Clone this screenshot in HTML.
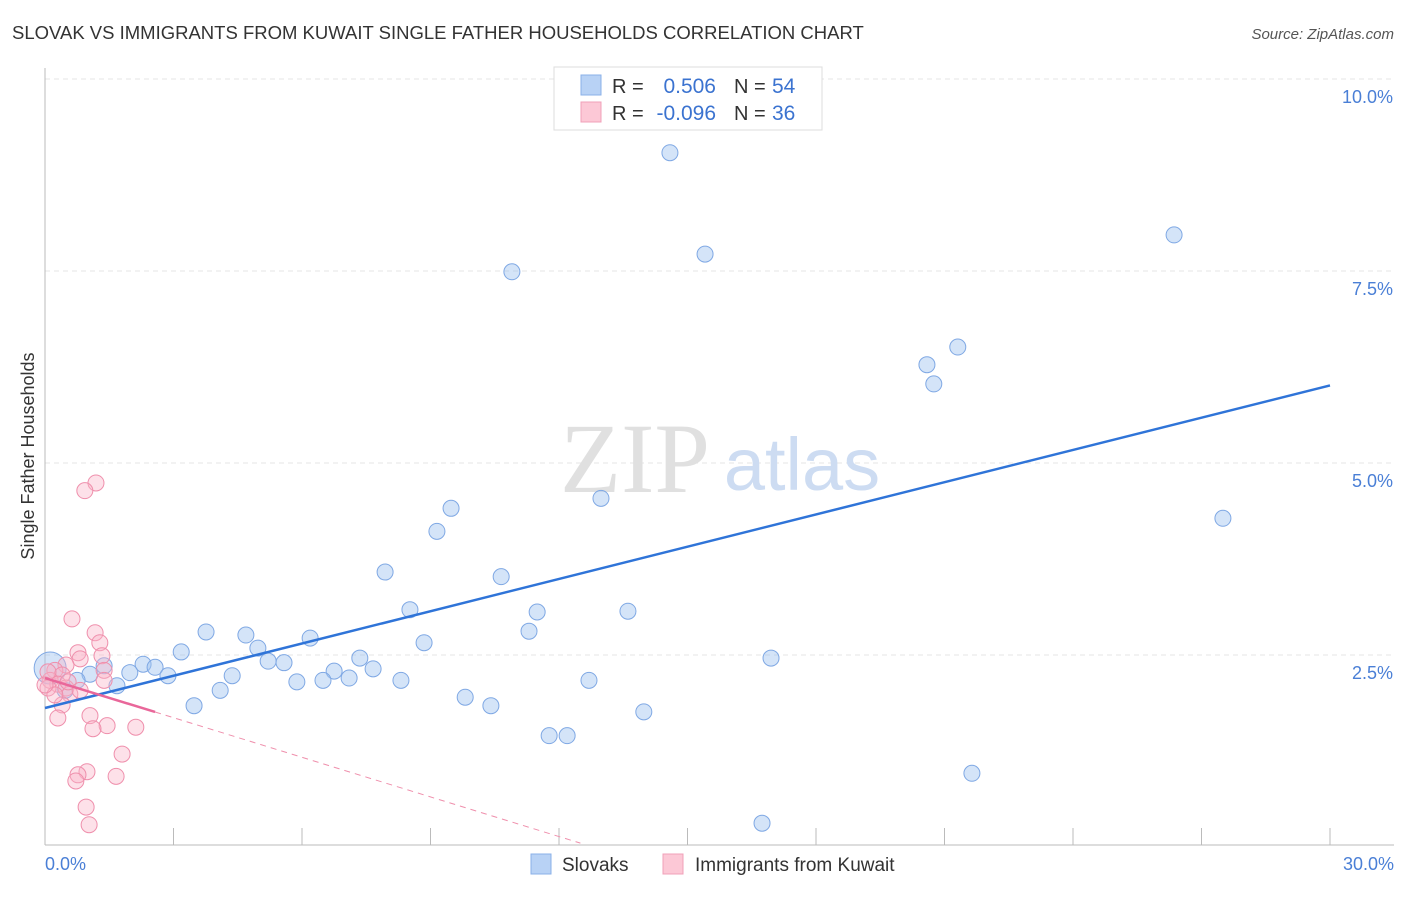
<!DOCTYPE html>
<html><head><meta charset="utf-8"><style>
body{margin:0;background:#fff;font-family:"Liberation Sans",sans-serif;}
svg text{font-family:"Liberation Sans",sans-serif;}
</style></head><body>
<svg id="chart" width="1406" height="892">
<text x="12" y="39" font-size="18.5" fill="#333">SLOVAK VS IMMIGRANTS FROM KUWAIT SINGLE FATHER HOUSEHOLDS CORRELATION CHART</text>
<text x="1394" y="39" font-size="15" fill="#555" text-anchor="end" font-style="italic">Source: ZipAtlas.com</text>
<text x="34" y="456" font-size="18" fill="#333" text-anchor="middle" transform="rotate(-90 34 456)">Single Father Households</text>
<g id="grid"></g>
<text x="635" y="492" font-size="100" fill="#e0e0e0" style="font-family:'Liberation Serif',serif" text-anchor="middle">ZIP</text>
<text x="802" y="490" font-size="74" fill="#cddcf2" text-anchor="middle">atlas</text>
<g id="marks"></g>
<g>
<rect x="554" y="67" width="268" height="63" fill="#fff" stroke="#ddd"/>
<rect x="581" y="75" width="20" height="20" fill="#b8d2f5" stroke="#8ab0e8"/>
<rect x="581" y="102" width="20" height="20" fill="#fcc8d6" stroke="#f0a0b8"/>
<text x="612" y="93" font-size="20" fill="#333">R =</text><text x="716" y="93" font-size="21" fill="#3b73d0" text-anchor="end">0.506</text>
<text x="734" y="93" font-size="20" fill="#333">N =</text><text x="772" y="93" font-size="21" fill="#3b73d0">54</text>
<text x="612" y="120" font-size="20" fill="#333">R =</text><text x="716" y="120" font-size="21" fill="#3b73d0" text-anchor="end">-0.096</text>
<text x="734" y="120" font-size="20" fill="#333">N =</text><text x="772" y="120" font-size="21" fill="#3b73d0">36</text>
</g>
<g>
<rect x="531" y="854" width="20" height="20" fill="#b8d2f5" stroke="#8ab0e8"/>
<text x="562" y="871" font-size="19" fill="#333">Slovaks</text>
<rect x="663" y="854" width="20" height="20" fill="#fcc8d6" stroke="#f0a0b8"/>
<text x="695" y="871" font-size="19" fill="#333">Immigrants from Kuwait</text>
</g>
</svg>
<script>
const xTicks=[0,3,6,9,12,15,18,21,24,27,30];
const yTicks=[2.5,5,7.5,10];
const yTickLabels=["2.5%","5.0%","7.5%","10.0%"];
const slovakX=[14.59,26.36,15.41,10.90,21.31,20.59,20.75,12.98,9.48,9.15,27.50,7.94,10.65,8.52,11.49,13.61,11.30,3.76,4.69,6.19,8.85,4.97,3.18,7.35,16.95,5.21,5.58,2.29,2.57,1.38,7.66,6.75,1.98,2.87,1.05,4.37,0.75,5.88,6.49,7.10,8.31,12.70,1.68,4.09,9.81,10.41,3.48,13.98,11.77,12.19,21.64,16.74,0.12,0.47];
const slovakY=[9.04,7.97,7.72,7.49,6.51,6.28,6.03,4.54,4.41,4.11,4.28,3.58,3.52,3.09,3.06,3.07,2.81,2.80,2.76,2.72,2.66,2.59,2.54,2.46,2.46,2.42,2.40,2.38,2.34,2.36,2.32,2.29,2.27,2.23,2.25,2.23,2.17,2.15,2.17,2.20,2.17,2.17,2.10,2.04,1.95,1.84,1.84,1.76,1.45,1.45,0.96,0.31,2.33,2.04];
const kuwaitX=[1.19,0.93,0.63,1.17,1.28,0.77,1.33,0.82,0.49,1.38,0.23,0.40,0.12,0.30,0.49,1.38,0.07,0.58,0.40,0.30,1.05,1.45,1.12,2.12,1.80,0.98,0.77,1.66,0.72,0.96,1.03,0.07,0.23,0.54,0.00,0.82];
const kuwaitY=[4.74,4.64,2.97,2.79,2.66,2.53,2.49,2.45,2.37,2.30,2.30,2.24,2.17,2.12,2.07,2.17,2.07,1.99,1.85,1.68,1.71,1.58,1.54,1.56,1.21,0.98,0.94,0.92,0.86,0.52,0.29,2.28,1.98,2.15,2.11,2.04];
const slovakTrend=[1.81,6.01];
const kuwaitTrend=[2.20,-0.172];
const NS="http://www.w3.org/2000/svg";
const sx=v=>45+v*(1285/30), sy=v=>847-v*76.8;
function mk(t,a,p){const e=document.createElementNS(NS,t);for(const k in a)e.setAttribute(k,a[k]);p.appendChild(e);return e;}
const grid=document.getElementById('grid'),marks=document.getElementById('marks');
yTicks.forEach((v,i)=>{
 const l=mk('line',{x1:45,x2:1394,y1:sy(v),y2:sy(v),stroke:'#e4e4e4','stroke-dasharray':'5,4'},grid);
 
 
 const t=mk('text',{x:1393,y:sy(v)+24,'font-size':18,fill:'#4a7fd6','text-anchor':'end'},grid);t.textContent=yTickLabels[i];
 
 
});
const ax=mk('line',{x1:45,x2:1394,y1:845,y2:845,stroke:'#bbb'},grid);


const ay=mk('line',{x1:45,x2:45,y1:68,y2:845,stroke:'#bbb'},grid);


xTicks.forEach(v=>{const l=mk('line',{x1:sx(v),x2:sx(v),y1:828,y2:845,stroke:'#bbb'},grid);
 
 });
[[0,'0.0%','start',45],[30,'30.0%','end',1394]].forEach(d=>{const t=mk('text',{x:d[3],y:870,'font-size':18,fill:'#4a7fd6','text-anchor':d[2]},grid);t.textContent=d[1];
 
 });
slovakX.forEach((x,i)=>{const c=mk('circle',{cx:sx(x),cy:sy(slovakY[i]),r:i==52?16:8,fill:'rgba(160,195,240,0.45)',stroke:'#7fa8e4','stroke-width':1},marks);
 
 });
kuwaitX.forEach((x,i)=>{const c=mk('circle',{cx:sx(x),cy:sy(kuwaitY[i]),r:8,fill:'rgba(250,180,200,0.4)',stroke:'#ef8fac','stroke-width':1},marks);
 
 });
const tl=mk('line',{x1:sx(0),y1:sy(slovakTrend[0]),x2:sx(30),y2:sy(slovakTrend[1]),stroke:'#2f74d8','stroke-width':2.5},marks);


const kf=x=>kuwaitTrend[0]+kuwaitTrend[1]*x;
const kd=mk('line',{x1:sx(2.57),y1:sy(kf(2.57)),x2:sx(12.5),y2:sy(kf(12.5)),stroke:'#ef8fac','stroke-width':1,'stroke-dasharray':'6,5'},marks);


const ks=mk('line',{x1:sx(0),y1:sy(kf(0)),x2:sx(2.57),y2:sy(kf(2.57)),stroke:'#e9679a','stroke-width':2.5},marks);


</script>
</body></html>
